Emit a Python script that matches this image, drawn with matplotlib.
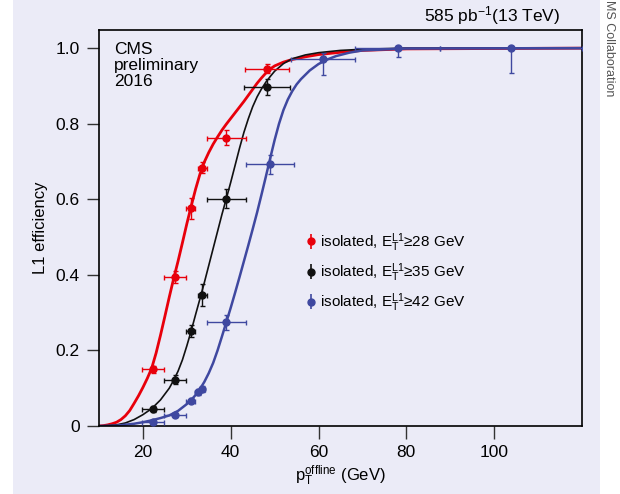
import numpy as np
import matplotlib
matplotlib.use("Agg")
import matplotlib.pyplot as plt
from matplotlib.patches import Rectangle

plt.rcParams['font.family'] = ['Liberation Sans', 'DejaVu Sans']
plt.rcParams['mathtext.fontset'] = 'custom'
plt.rcParams['mathtext.rm'] = 'Liberation Sans'
plt.rcParams['mathtext.it'] = 'Liberation Sans'

bg = "#EBEBF7"
red = "#E8000B"
black = "#111111"
blue = "#3F48A0"

labels = ["isolated, $\\mathregular{E_T^{L1}}$≥28 GeV",
          "isolated, $\\mathregular{E_T^{L1}}$≥35 GeV",
          "isolated, $\\mathregular{E_T^{L1}}$≥42 GeV"]

# measured points (x, xerr, y, yerr)
red_x = [22.2, 27.2, 30.9, 33.5, 39.0, 48.3]
red_xe = [2.5, 2.5, 1.0, 1.0, 4.4, 5.0]
red_y = [0.150, 0.394, 0.576, 0.684, 0.763, 0.945]
red_ye = [0.010, 0.015, 0.027, 0.015, 0.020, 0.012]

blk_x = [22.2, 27.2, 30.9, 33.5, 39.0, 48.3]
blk_xe = [2.5, 2.5, 1.0, 1.0, 4.4, 5.3]
blk_y = [0.046, 0.123, 0.251, 0.347, 0.601, 0.897]
blk_ye = [0.008, 0.012, 0.015, 0.030, 0.025, 0.022]

blu_x = [22.2, 27.2, 30.9, 32.5, 33.5, 39.0, 48.9, 61.0, 78.0, 103.8]
blu_xe = [2.5, 2.5, 1.0, 0.6, 0.6, 4.4, 5.5, 7.3, 9.7, 16.2]
blu_y = [0.011, 0.030, 0.067, 0.091, 0.098, 0.275, 0.693, 0.970, 1.000, 1.000]
blu_ye_lo = [0.004, 0.005, 0.006, 0.008, 0.008, 0.020, 0.025, 0.041, 0.024, 0.066]
blu_ye_hi = [0.004, 0.005, 0.006, 0.008, 0.008, 0.020, 0.025, 0.018, 0.000, 0.000]

# fitted turn-on curves
red_cx = [10, 11, 12, 13, 14, 15, 16, 17, 18, 19, 20, 21, 22, 23, 24, 25, 26, 27, 28, 29, 30,
          31, 32, 33, 34, 35, 36, 37, 38, 39, 40, 41, 42, 43, 44, 45, 46, 47, 48, 49, 50,
          52, 54, 57, 60, 65, 70, 80, 120]
red_cy = [0.000, 0.001, 0.003, 0.006, 0.010, 0.017, 0.027, 0.041, 0.060, 0.080, 0.102, 0.126,
          0.153, 0.193, 0.240, 0.290, 0.341, 0.390, 0.436, 0.485, 0.535, 0.582, 0.627, 0.667,
          0.699, 0.724, 0.746, 0.765, 0.783, 0.799, 0.814, 0.829, 0.844, 0.859, 0.875, 0.891,
          0.907, 0.921, 0.934, 0.945, 0.953, 0.963, 0.970, 0.977, 0.983, 0.989, 0.994, 0.998, 1.0]
blk_cx = [10, 12, 14, 16, 18, 20, 22, 24, 26, 27, 28, 29, 30, 31, 32, 33, 34, 35, 36, 37, 38,
          39, 40, 41, 42, 43, 44, 45, 46, 47, 48, 49, 50, 52, 54, 57, 60, 65, 70, 80, 120]
blk_cy = [0.0, 0.001, 0.003, 0.008, 0.017, 0.030, 0.046, 0.069, 0.100, 0.121, 0.145, 0.175,
          0.212, 0.252, 0.295, 0.337, 0.380, 0.425, 0.470, 0.515, 0.560, 0.602, 0.645, 0.690,
          0.735, 0.777, 0.813, 0.845, 0.871, 0.892, 0.910, 0.925, 0.939, 0.959, 0.972, 0.982,
          0.988, 0.994, 0.997, 1.0, 1.0]
blu_cx = [10, 14, 18, 20, 22, 24, 26, 28, 30, 31, 32, 33, 34, 35, 36, 37, 38, 39, 40, 41, 42,
          43, 44, 45, 46, 47, 48, 49, 50, 51, 52, 53, 54, 55, 56, 58, 60, 62, 64, 67, 70, 80, 120]
blu_cy = [0.0, 0.001, 0.006, 0.010, 0.015, 0.021, 0.028, 0.040, 0.058, 0.069, 0.082, 0.098,
          0.117, 0.140, 0.167, 0.200, 0.237, 0.275, 0.313, 0.353, 0.394, 0.436, 0.478, 0.521,
          0.565, 0.612, 0.660, 0.709, 0.757, 0.800, 0.836, 0.864, 0.886, 0.904, 0.918, 0.941,
          0.958, 0.970, 0.979, 0.988, 0.994, 0.999, 1.0]

fig = plt.figure(figsize=(6.2, 4.94), dpi=100)
fig.patch.set_facecolor("white")
fig.patches.append(Rectangle((13 / 620, 0.0), (600 - 13) / 620, 1.0, transform=fig.transFigure,
                             facecolor=bg, edgecolor="none", zorder=-10))
fig.text(609 / 620, 1.0, "MS Collaboration", rotation=270, ha="center", va="top",
         fontsize=9, color="#555555")

ax = fig.add_axes([99 / 620, 68 / 494, 483 / 620, 396 / 494])
ax.set_facecolor(bg)

ax.plot(red_cx, red_cy, color=red, lw=2.0, zorder=2)
ax.plot(blk_cx, blk_cy, color=black, lw=1.2, zorder=2)
ax.plot(blu_cx, blu_cy, color=blue, lw=1.8, zorder=2)

ekw = dict(fmt="o", ms=5, elinewidth=1.0, capsize=1.8, capthick=1.0, zorder=3)
ax.errorbar(red_x, red_y, xerr=red_xe, yerr=red_ye, color=red, **ekw)
ax.errorbar(blk_x, blk_y, xerr=blk_xe, yerr=blk_ye, color=black, **ekw)
ax.errorbar(blu_x, blu_y, xerr=blu_xe, yerr=[blu_ye_lo, blu_ye_hi], color=blue, **ekw)

handles = []
for c in [red, black, blue]:
    h = ax.errorbar([np.nan], [np.nan], yerr=[0.1], fmt="o", ms=5, color=c, elinewidth=1.2)
    handles.append(h)
ax.legend(handles, labels, loc="upper left", bbox_to_anchor=(0.40, 0.527), frameon=False,
          fontsize=11, handlelength=0.6, handletextpad=0.3, labelspacing=0.5)

ax.set_xlim(10, 120)
ax.set_ylim(0, 1.048)
ax.set_xticks([20, 40, 60, 80, 100])
ax.set_yticks([0, 0.2, 0.4, 0.6, 0.8, 1.0])
ax.set_yticklabels(["0", "0.2", "0.4", "0.6", "0.8", "1.0"])
ax.tick_params(direction="out", length=9, width=1, labelsize=12.5, pad=5, color="#333333")
for s in ax.spines.values():
    s.set_linewidth(1.2)

ax.set_xlabel("$\\mathregular{p_T^{offline}}$ (GeV)", fontsize=12, labelpad=2)
ax.set_ylabel("L1 efficiency", fontsize=12, labelpad=5)

ax.text(0.031, 0.97, "CMS\npreliminary\n2016", transform=ax.transAxes, ha="left", va="top",
        fontsize=12.5, linespacing=1.1)
fig.text(560 / 620, (494 - 21) / 494, "585 pb$^{-1}$(13 TeV)", ha="right", va="baseline", fontsize=12.5)

fig.savefig("out.png", dpi=100, facecolor=fig.get_facecolor())
